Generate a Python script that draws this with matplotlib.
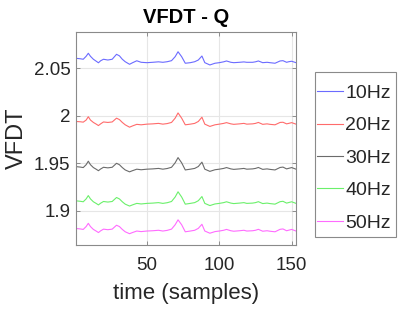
import matplotlib
matplotlib.use("Agg")
import matplotlib.pyplot as plt
from matplotlib.patches import Rectangle

plt.rcParams['font.family'] = ['Liberation Sans', 'DejaVu Sans']

x = [1, 4, 6, 8, 9.5, 11, 13, 15, 16.5, 18, 20, 23, 26, 29, 31, 33, 35, 38, 40, 43,
     46, 50, 54, 58, 61, 64, 67, 69.5, 71.5, 74, 76.5, 80, 83, 85.5, 88, 90, 93.5, 97, 100, 103,
     105, 108, 110, 114, 117, 119, 123, 125, 127, 130, 133, 135, 138.5, 142, 144, 146.5, 148, 150, 153]

hz10 = [2.0605, 2.0600, 2.0595, 2.0626, 2.0658, 2.0626, 2.0595, 2.0574, 2.0558, 2.0579,
        2.0595, 2.0587, 2.0595, 2.0647, 2.0631, 2.0595, 2.0569, 2.0542, 2.0558, 2.0579,
        2.0563, 2.0559, 2.0563, 2.0568, 2.0563, 2.0569, 2.0580, 2.0622, 2.0674, 2.0622,
        2.0553, 2.0559, 2.0569, 2.0587, 2.0629, 2.0559, 2.0535, 2.0553, 2.0559, 2.0568,
        2.0577, 2.0563, 2.0559, 2.0563, 2.0567, 2.0563, 2.0563, 2.0568, 2.0577, 2.0559,
        2.0563, 2.0559, 2.0553, 2.0577, 2.0580, 2.0563, 2.0569, 2.0574, 2.0559]

hz20 = [1.9940, 1.9937, 1.9933, 1.9955, 1.9990, 1.9955, 1.9930, 1.9912, 1.9897, 1.9915,
        1.9935, 1.9930, 1.9935, 1.9975, 1.9960, 1.9930, 1.9905, 1.9880, 1.9893, 1.9910,
        1.9905, 1.9912, 1.9915, 1.9920, 1.9912, 1.9918, 1.9930, 1.9975, 2.0030, 1.9975,
        1.9905, 1.9912, 1.9920, 1.9940, 1.9985, 1.9912, 1.9888, 1.9905, 1.9912, 1.9920,
        1.9928, 1.9915, 1.9910, 1.9915, 1.9920, 1.9912, 1.9915, 1.9920, 1.9930, 1.9910,
        1.9915, 1.9910, 1.9905, 1.9930, 1.9932, 1.9915, 1.9920, 1.9928, 1.9912]

hz30 = [1.9465, 1.9460, 1.9455, 1.9485, 1.9522, 1.9485, 1.9455, 1.9437, 1.9422, 1.9440,
        1.9458, 1.9452, 1.9458, 1.9500, 1.9485, 1.9455, 1.9430, 1.9410, 1.9422, 1.9438,
        1.9432, 1.9438, 1.9441, 1.9446, 1.9438, 1.9445, 1.9458, 1.9505, 1.9560, 1.9505,
        1.9430, 1.9438, 1.9446, 1.9466, 1.9512, 1.9438, 1.9415, 1.9432, 1.9438, 1.9446,
        1.9455, 1.9441, 1.9436, 1.9441, 1.9446, 1.9438, 1.9441, 1.9446, 1.9456, 1.9436,
        1.9441, 1.9436, 1.9430, 1.9456, 1.9460, 1.9441, 1.9447, 1.9455, 1.9438]

hz40 = [1.9105, 1.9100, 1.9095, 1.9125, 1.9160, 1.9125, 1.9095, 1.9077, 1.9062, 1.9080,
        1.9098, 1.9092, 1.9098, 1.9140, 1.9125, 1.9095, 1.9070, 1.9050, 1.9062, 1.9078,
        1.9072, 1.9078, 1.9081, 1.9086, 1.9078, 1.9085, 1.9098, 1.9145, 1.9200, 1.9145,
        1.9070, 1.9078, 1.9086, 1.9106, 1.9150, 1.9078, 1.9055, 1.9072, 1.9078, 1.9086,
        1.9095, 1.9081, 1.9076, 1.9081, 1.9086, 1.9078, 1.9081, 1.9086, 1.9096, 1.9076,
        1.9081, 1.9076, 1.9070, 1.9096, 1.9100, 1.9081, 1.9087, 1.9095, 1.9078]

hz50 = [1.8814, 1.8809, 1.8804, 1.8834, 1.8868, 1.8834, 1.8804, 1.8786, 1.8771, 1.8789,
        1.8807, 1.8801, 1.8807, 1.8848, 1.8834, 1.8804, 1.8779, 1.8759, 1.8771, 1.8787,
        1.8781, 1.8787, 1.8790, 1.8795, 1.8787, 1.8794, 1.8807, 1.8853, 1.8905, 1.8853,
        1.8779, 1.8787, 1.8795, 1.8815, 1.8858, 1.8787, 1.8764, 1.8781, 1.8787, 1.8795,
        1.8804, 1.8790, 1.8785, 1.8790, 1.8795, 1.8787, 1.8790, 1.8795, 1.8805, 1.8785,
        1.8790, 1.8785, 1.8779, 1.8805, 1.8809, 1.8790, 1.8796, 1.8804, 1.8787]

labels = ['10Hz', '20Hz', '30Hz', '40Hz', '50Hz']
series = [hz10, hz20, hz30, hz40, hz50]
colors = ['#6b6bff', '#ff6b6b', '#6b6b6b', '#6bf06b', '#ff6bff']

xticks = [50, 100, 150]
yticks = [1.9, 1.95, 2.0, 2.05]
yticklabels = ['1.9', '1.95', '2', '2.05']

W, H = 399, 315
fig = plt.figure(figsize=(3.99, 3.15), dpi=100)
ax = fig.add_axes([76/W, 70/H, 220/W, 213.3/H])

for ys, c, lab in zip(series, colors, labels):
    ax.plot(x, ys, color=c, lw=0.8, label=lab)

ax.set_xlim(1, 153)
ax.set_ylim(1.864, 2.0885)
ax.set_xticks(xticks)
ax.set_yticks(yticks)
ax.set_yticklabels(yticklabels)
ax.grid(True, color='#e6e6e6', lw=0.8)
ax.set_axisbelow(True)
ax.tick_params(direction='in', length=3, width=0.6, colors='#808080',
               labelcolor='#262626', labelsize=13.5, top=True, right=True)
ax.tick_params(axis='x', pad=9)
ax.tick_params(axis='y', pad=4)
for s in ax.spines.values():
    s.set_color('#8a8a8a')
    s.set_linewidth(0.8)

ax.set_title('VFDT - Q', fontsize=14.5, fontweight='bold', color='black', pad=6)
ax.set_xlabel('time (samples)', fontsize=16, color='#262626', labelpad=6)
ax.set_ylabel('VFDT', fontsize=17, color='#262626', labelpad=4)

# legend frame (MATLAB style, extra vertical padding)
frame = Rectangle((315/W, 1 - 237/H), 81/W, 165/H,
                  transform=fig.transFigure, fill=True, clip_on=False,
                  facecolor='white', edgecolor='#8a8a8a', lw=0.8, zorder=4)
ax.add_patch(frame)
leg = ax.legend(loc='upper left', bbox_to_anchor=(317/W, 1 - 84.5/H),
                bbox_transform=fig.transFigure, fontsize=14, frameon=False,
                handlelength=1.35, handletextpad=0.1, labelspacing=0.76,
                borderpad=0, borderaxespad=0)
leg.set_zorder(6)
for t in leg.get_texts():
    t.set_color('#262626')

fig.savefig('out.png', dpi=100)
